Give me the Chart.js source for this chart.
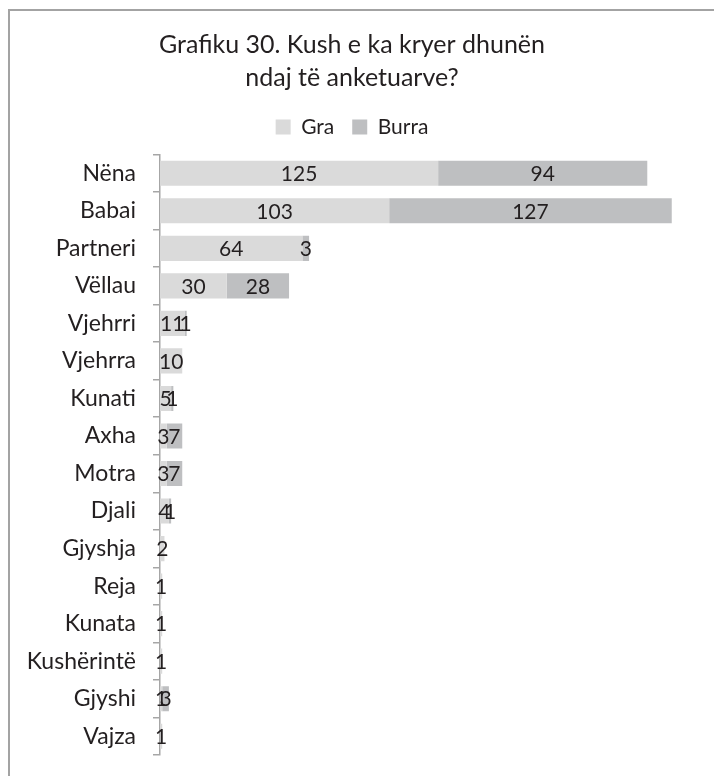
<!DOCTYPE html>
<html>
<head>
<meta charset="utf-8">
<script src="https://cdn.jsdelivr.net/npm/chart.js@4"></script>
<style>
    html, body { margin: 0; padding: 0; background: #fff; }
    #wrap { position: relative; width: 714px; height: 776px; overflow: hidden; }
    #frame {
        position: absolute; left: 8px; top: 9px; width: 720px; height: 780px;
        border-left: 2px solid #a3a3a3; border-top: 2px solid #a3a3a3;
    }
    #chart { position: absolute; left: 0; top: 0; }
</style>
</head>
<body>
<div id="wrap">
    <div id="frame"></div>
    <canvas id="chart" width="714" height="776"></canvas>
</div>
<script>
// Categories and series
const categories = ['Nëna', 'Babai', 'Partneri', 'Vëllau', 'Vjehrri', 'Vjehrra', 'Kunati', 'Axha',
    'Motra', 'Djali', 'Gjyshja', 'Reja', 'Kunata', 'Kushërintë', 'Gjyshi', 'Vajza'];
const graValues = [125, 103, 64, 30, 11, 10, 5, 3, 3, 4, 2, 1, 1, 1, 1, 1];
const burraValues = [94, 127, 3, 28, 1, 0, 1, 7, 7, 1, 0, 0, 0, 0, 3, 0];
const seriesNames = ['Gra', 'Burra'];
const titleLines = ['Grafiku 30. Kush e ka kryer dhunën', 'ndaj të anketuarve?'];

const FONT = 'Lato, "Open Sans", sans-serif';
const TEXT_COLOR = '#231f20';

// Draw value labels in the middle of each segment
const segmentLabels = {
    id: 'segmentLabels',
    afterDatasetsDraw(chart) {
        const ctx = chart.ctx;
        ctx.save();
        ctx.font = '21px ' + FONT;
        ctx.fillStyle = TEXT_COLOR;
        ctx.textAlign = 'center';
        ctx.textBaseline = 'middle';
        chart.data.datasets.forEach((ds, i) => {
            const meta = chart.getDatasetMeta(i);
            meta.data.forEach((bar, j) => {
                const v = ds.data[j];
                if (!v) return;
                ctx.fillText(String(v), (bar.x + bar.base) / 2, bar.y + 1);
            });
        });
        ctx.restore();
    }
};

// Leave a little more room between legend and bars
const legendGap = {
    id: 'legendGap',
    beforeLayout(chart) {
        const lg = chart.legend;
        if (lg && !lg._gapPatched) {
            const fit = lg.fit.bind(lg);
            lg.fit = function () { fit(); this.height += 7; };
            lg._gapPatched = true;
        }
    }
};

const ctx = document.getElementById('chart').getContext('2d');
new Chart(ctx, {
    type: 'bar',
    data: {
        labels: categories,
        datasets: [
            {
                label: seriesNames[0],
                data: graValues,
                backgroundColor: '#dadada',
                barPercentage: 0.67,
                categoryPercentage: 1
            },
            {
                label: seriesNames[1],
                data: burraValues,
                backgroundColor: '#bebfc1',
                barPercentage: 0.67,
                categoryPercentage: 1
            }
        ]
    },
    options: {
        indexAxis: 'y',
        responsive: false,
        animation: false,
        layout: {
            padding: { left: 10, right: 20, top: 12, bottom: 21 }
        },
        scales: {
            x: {
                stacked: true,
                display: false,
                min: 0,
                max: 240
            },
            y: {
                stacked: true,
                afterFit: (scale) => {
                    scale.width = 150;
                    scale.paddingTop = 0;
                    scale.paddingBottom = 0;
                },
                border: { display: true, color: '#a6a6a6', width: 1.5 },
                grid: {
                    drawOnChartArea: false,
                    drawTicks: true,
                    tickLength: 7,
                    color: '#a6a6a6',
                    lineWidth: 1.5
                },
                ticks: {
                    color: TEXT_COLOR,
                    padding: 17,
                    font: { family: FONT, size: 23 }
                }
            }
        },
        plugins: {
            title: {
                display: true,
                text: titleLines,
                color: TEXT_COLOR,
                font: { family: FONT, size: 25, weight: 'normal', lineHeight: 1.33 },
                padding: { top: 16, bottom: 4 }
            },
            legend: {
                display: true,
                position: 'top',
                labels: {
                    color: TEXT_COLOR,
                    boxWidth: 15,
                    boxHeight: 15,
                    padding: 18,
                    font: { family: FONT, size: 21 }
                }
            },
            tooltip: { enabled: false }
        }
    },
    plugins: [segmentLabels, legendGap]
});
</script>
</body>
</html>
